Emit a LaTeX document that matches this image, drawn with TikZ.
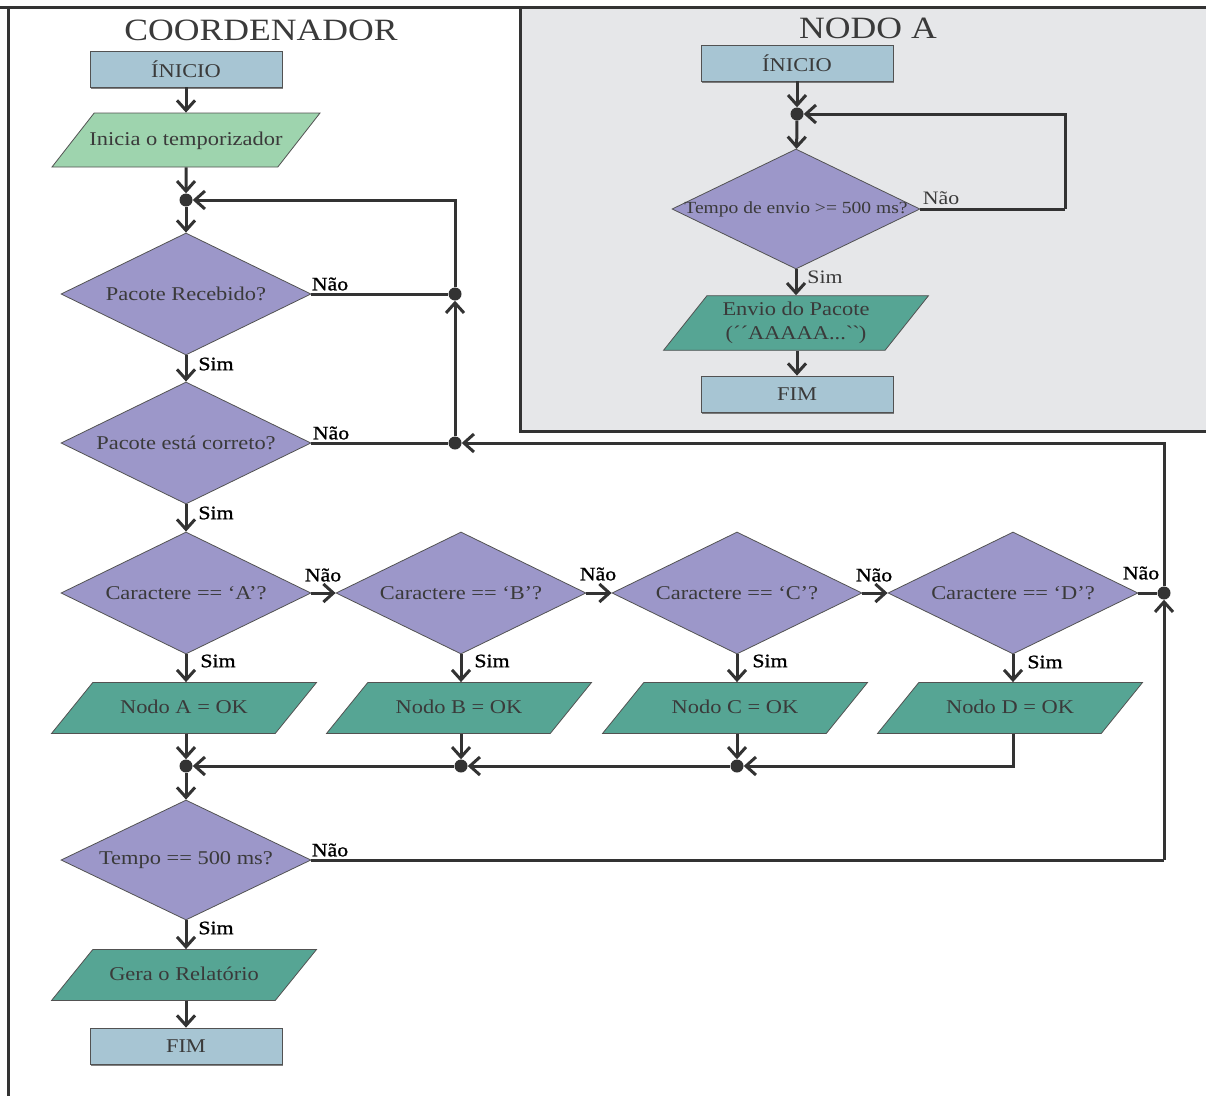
\documentclass[tikz,border=0pt]{standalone}
\usepackage{fontspec}
\setmainfont{Liberation Serif}[FakeStretch=1.15]
\newfontfamily\lblfont{Liberation Serif}[FakeStretch=1.15,FakeBold=1.2]
\usetikzlibrary{shapes.geometric,arrows.meta,calc,shadows}

\definecolor{boxblue}{HTML}{A7C5D3}
\definecolor{lightgreen}{HTML}{9ED4AE}
\definecolor{decpurple}{HTML}{9C97C9}
\definecolor{iogreen}{HTML}{56A594}
\definecolor{panelgray}{HTML}{E6E7E9}
\definecolor{linec}{HTML}{333333}
\definecolor{txtc}{HTML}{3A3A3A}

\tikzset{
  base/.style={draw=linec!85, line width=0.8pt, text=txtc, inner sep=0pt,
    font=\fontsize{19.5}{24}\selectfont},
  term/.style={base, rectangle, fill=boxblue, minimum width=192pt, minimum height=36pt,
    drop shadow={shadow xshift=1.2pt, shadow yshift=-1.5pt, fill=black!70, opacity=0.7}},
  decision/.style={base, diamond, fill=decpurple, minimum width=250pt, minimum height=122pt},
  dec/.style={decision, label={[dtext]center:#1}},
  dtext/.style={text=txtc, font=\fontsize{19.5}{24}\selectfont},
  % parallelogram: the height comes from the text box plus inner ysep,
  % so the slanted sides keep their angle
  io/.style={base, trapezium, trapezium left angle=51, trapezium right angle=129,
    trapezium stretches body=true, fill=iogreen, minimum width=265pt,
    text height=14pt, text depth=4pt, inner xsep=0pt, inner ysep=16.5pt},
  dot/.style={circle, fill=linec, inner sep=0pt, minimum size=13pt},
  ln/.style={draw=linec, line width=3pt},
  arr/.style={ln, -{Straight Barb[length=10pt,width=18pt]}},
  lbl/.style={text=black, inner sep=0pt, font=\lblfont\fontsize{19}{22}\selectfont},
  lblb/.style={text=txtc, inner sep=0pt, font=\fontsize{19}{22}\selectfont},
  title/.style={text=txtc, inner sep=0pt, font=\fontsize{31}{33}\selectfont},
  frame/.style={draw=linec, line width=3pt}
}

\begin{document}
\begin{tikzpicture}[x=1pt, y=-1pt]
\useasboundingbox (0,0) rectangle (1206,1095);

% outer frame and the side panel
\filldraw[frame, fill=panelgray] (520,7) rectangle (1215,431);
\draw[frame] (0,7) -- (1215,7);
\draw[frame] (8,7) -- (8,1100);

% ---------------- COORDENADOR ----------------
\node[title] (tcoord) at (261,30) {COORDENADOR};
\node[term] (cstart) at (186,69) {ÍNICIO};
\node[io, fill=lightgreen, minimum width=268pt, inner ysep=18pt, inner xsep=-5.5pt,
      trapezium left angle=52, trapezium right angle=128] (ctimer) at (186,140) {Inicia o temporizador};
\node[dot] (j1) at (186,200) {};
\node[dec={Pacote Recebido?}] (d1) at (186,294) {};
\node[dot] (j2) at (455,294) {};
\node[dec={Pacote está correto?}] (d2) at (186,443) {};
\node[dot] (j3) at (455,443) {};

\node[dec={Caractere == ‘A’?}] (dA) at (186,593) {};
\node[dec={Caractere == ‘B’?}] (dB) at (461,593) {};
\node[dec={Caractere == ‘C’?}] (dC) at (737,593) {};
\node[dec={Caractere == ‘D’?}] (dD) at (1013,593) {};
\node[dot] (j4) at (1164,593) {};

\node[io] (pA) at (184,708) {Nodo A = OK};
\node[io] (pB) at (459,708) {Nodo B = OK};
\node[io] (pC) at (735,708) {Nodo C = OK};
\node[io] (pD) at (1010,708) {Nodo D = OK};

\node[dot] (jA) at (186,766) {};
\node[dot] (jB) at (461,766) {};
\node[dot] (jC) at (737,766) {};

\node[dec={Tempo == 500 ms?}, minimum height=120pt] (d5) at (186,860) {};
\node[io] (prep) at (184,975) {Gera o Relatório};
\node[term] (cend) at (186,1046) {FIM};

\coordinate (cR) at (1164,860);

% connectors
\draw[arr] (cstart) -- (ctimer);
\draw[arr] (ctimer) -- (j1);
\draw[arr] (j1) -- (d1);
\draw[ln] (d1.east) -- (j2);
\draw[arr] (j2) |- (j1);
\draw[arr] (d1.south) -- (d2.north);
\draw[ln] (d2.east) -- (j3);
\draw[arr] (j3) -- (j2);
\draw[arr] (d2.south) -- (dA.north);

\draw[arr] (dA.east) -- (dB.west);
\draw[arr] (dB.east) -- (dC.west);
\draw[arr] (dC.east) -- (dD.west);
\draw[ln] (dD.east) -- (j4);
\draw[arr] (j4) |- (j3);

\draw[arr] (dA.south) -- (dA.south |- pA.north);
\draw[arr] (dB.south) -- (dB.south |- pB.north);
\draw[arr] (dC.south) -- (dC.south |- pC.north);
\draw[arr] (dD.south) -- (dD.south |- pD.north);

\draw[arr] (pA.south -| jA) -- (jA);
\draw[arr] (pB.south -| jB) -- (jB);
\draw[arr] (pC.south -| jC) -- (jC);
\draw[arr] (pD.south -| dD) |- (jC);
\draw[arr] (jC) -- (jB);
\draw[arr] (jB) -- (jA);
\draw[arr] (jA) -- (d5);

\draw[ln] (d5.east) -- (cR);
\draw[arr] (cR) -- (j4);
\draw[arr] (d5.south) -- (d5.south |- prep.north);
\draw[arr] (prep.south -| cend) -- (cend);

% branch labels
\node[lbl] (l1) at (330,284) {Não};
\node[lbl] (l2) at (216,364) {Sim};
\node[lbl] (l3) at (331,433) {Não};
\node[lbl] (l4) at (216,513) {Sim};
\node[lbl] (l5) at (323,575) {Não};
\node[lbl] (l6) at (598,574) {Não};
\node[lbl] (l7) at (874,575) {Não};
\node[lbl] (l8) at (1141,573) {Não};
\node[lbl] (l9) at (218,661) {Sim};
\node[lbl] (l10) at (492,661) {Sim};
\node[lbl] (l11) at (770,661) {Sim};
\node[lbl] (l12) at (1045,662) {Sim};
\node[lbl] (l13) at (330,850) {Não};
\node[lbl] (l14) at (216,928) {Sim};

% ---------------- NODO A ----------------
\node[title] (tnodo) at (868,28) {NODO A};
\node[term] (nstart) at (797,63) {ÍNICIO};
\node[dot] (nj) at (797,114) {};
\node[decision, minimum width=248pt, minimum height=120pt,
      label={[dtext, font=\fontsize{17}{20}\selectfont]center:Tempo de envio >= 500 ms?}] (nd) at (796,209) {};
\node[io, align=center, minimum width=265pt, text height=, text depth=, inner ysep=6.5pt,
      trapezium left angle=51.5, trapezium right angle=128.5] (np) at (796,323)
      {Envio do Pacote\\(´´AAAAA...\textasciigrave\textasciigrave)};
\node[term] (nend) at (797,394) {FIM};
\coordinate (nR) at (1065,209);

\draw[arr] (nstart) -- (nj);
\draw[arr] (nj) -- (nd);
\draw[ln] (nd.east) -- (nR);
\draw[arr] (nR) |- (nj);
\draw[arr] (nd.south) -- (nd.south |- np.north);
\draw[arr] (np.south -| nend) -- (nend);

\node[lblb] (n1) at (941,198) {Não};
\node[lblb] (n2) at (825,277) {Sim};
\end{tikzpicture}
\end{document}
